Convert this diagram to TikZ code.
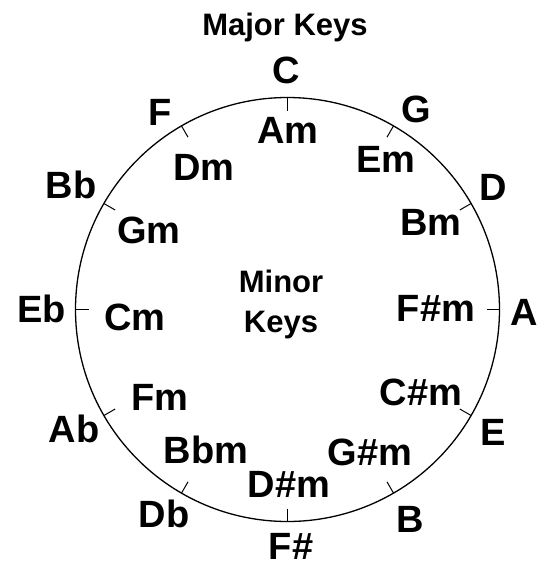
\documentclass[tikz,border=0pt]{standalone}
\usepackage{fontspec}
\setmainfont{Liberation Sans}
\begin{document}
\begin{tikzpicture}[x=1pt,y=-1pt,
  keylabel/.style={font=\fontsize{38}{40}\selectfont\bfseries, anchor=base, inner sep=0pt},
  titlelabel/.style={font=\fontsize{31}{33}\selectfont\bfseries, anchor=base, inner sep=0pt},
  ring/.style={line width=1.3pt},
  tick/.style={line width=1pt}]
\useasboundingbox (0,0) rectangle (549,566);
\fill[white] (0,0) rectangle (549,566);
\coordinate (O) at (287.5,309.5);
\draw[ring] (O) circle[radius=212];
\foreach \a in {0,30,...,330}{
  \draw[tick] ([shift={(\a:199)}]O) -- ([shift={(\a:212)}]O);
}
% title
\node[titlelabel] (major) at (285,35) {Major Keys};
\node[titlelabel] (minor1) at (281,292) {Minor};
\node[titlelabel] (minor2) at (281,332) {Keys};
% major keys
\node[keylabel] (C)  at (286.5,83)  {C};
\node[keylabel] (G)  at (416,122)   {G};
\node[keylabel] (D)  at (493,200)   {D};
\node[keylabel] (A)  at (524,325)   {A};
\node[keylabel] (E)  at (493,445)   {E};
\node[keylabel] (B)  at (410,532)   {B};
\node[keylabel] (Fs) at (291,559)   {F\#};
\node[keylabel] (Db) at (164,527)   {Db};
\node[keylabel] (Ab) at (74,442)    {Ab};
\node[keylabel] (Eb) at (41.5,322)  {Eb};
\node[keylabel] (Bb) at (71,198)    {Bb};
\node[keylabel] (F)  at (160,125)   {F};
% minor keys
\node[keylabel] (Am)  at (288,143) {Am};
\node[keylabel] (Em)  at (386,172) {Em};
\node[keylabel] (Bm)  at (431,235) {Bm};
\node[keylabel] (Fsm) at (436,321) {F\#m};
\node[keylabel] (Csm) at (421,405) {C\#m};
\node[keylabel] (Gsm) at (370,465) {G\#m};
\node[keylabel] (Dsm) at (289,497) {D\#m};
\node[keylabel] (Bbm) at (206,463) {Bbm};
\node[keylabel] (Fm)  at (160,410) {Fm};
\node[keylabel] (Cm)  at (135,330) {Cm};
\node[keylabel] (Gm)  at (149,243) {Gm};
\node[keylabel] (Dm)  at (204,180) {Dm};
\end{tikzpicture}
\end{document}
